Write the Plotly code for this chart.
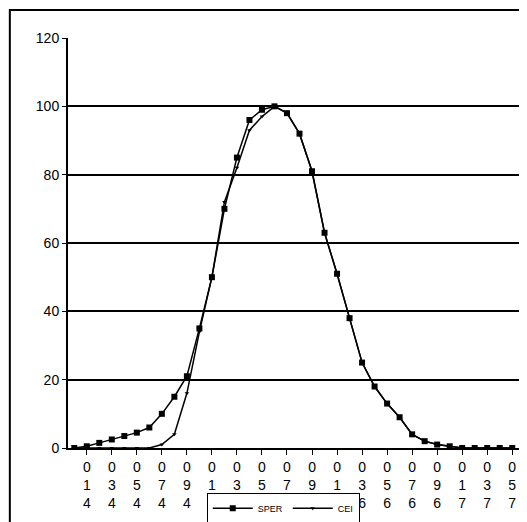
import plotly.graph_objects as go

wavelength = list(range(400, 760, 10))
sper = [0, 0.5, 1.5, 2.5, 3.5, 4.5, 6, 10, 15, 21, 35, 50, 70, 85, 96, 99, 100, 98,
        92, 81, 63, 51, 38, 25, 18, 13, 9, 4, 2, 1, 0.5, 0, 0, 0, 0, 0]
cei = [0, 0, 0, 0, 0, 0, 0, 1, 4, 16, 34, 50, 72, 82, 93, 97, 100, 98,
       92, 81, 63, 51, 38, 25, 18, 13, 9, 4, 2, 1, 0.5, 0, 0, 0, 0, 0]
tick_vals = list(range(410, 760, 20))
tick_text = ["<br>".join(str(v)[::-1]) for v in tick_vals]

fig = go.Figure()
fig.add_trace(go.Scatter(x=wavelength, y=sper, name="SPER", mode="lines+markers",
                         line=dict(color="black", width=1.5),
                         marker=dict(symbol="square", size=6, color="black")))
fig.add_trace(go.Scatter(x=wavelength, y=cei, name="CEI", mode="lines+markers",
                         line=dict(color="black", width=1.5),
                         marker=dict(symbol="triangle-down", size=4, color="black")))

fig.update_layout(
    width=527, height=522,
    paper_bgcolor="white", plot_bgcolor="white",
    font=dict(family="Liberation Sans, Arial", size=14, color="black"),
    margin=dict(l=60, r=9, t=30, b=82, autoexpand=False),
    showlegend=True,
    legend=dict(orientation="h", x=0.47, y=0.012, xanchor="center", yanchor="bottom",
                yref="container", bordercolor="black", borderwidth=1, font=dict(size=9),
                itemwidth=40, tracegroupgap=0),
    shapes=[dict(type="rect", xref="paper", yref="paper", x0=-0.127, x1=1.015,
                 y0=-0.195, y1=1.068, line=dict(color="black", width=2))],
)
fig.update_xaxes(range=[395, 761], tickvals=tick_vals, ticktext=tick_text,
                 showgrid=False, showline=True, linecolor="black", linewidth=2,
                 ticks="outside", ticklen=5, tickcolor="black", tickfont=dict(size=14),
                 automargin=False)
fig.update_yaxes(range=[0, 120], dtick=20, showgrid=True, gridcolor="black", gridwidth=1.5,
                 showline=True, linecolor="black", linewidth=2, zeroline=False,
                 ticks="outside", ticklen=4, tickcolor="black", automargin=False)

fig.write_html("out.html")
